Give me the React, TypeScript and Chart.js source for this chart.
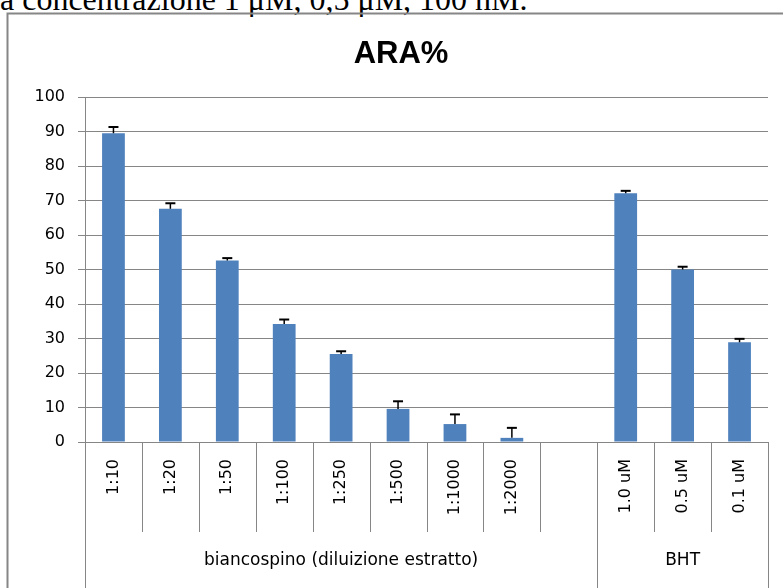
import React, { useEffect, useRef } from "react";
import { Chart, registerables } from "chart.js";

Chart.register(...registerables);

const HEADER_TEXT = "a concentrazione 1 μM, 0,5 μM, 100 nM.";
const TITLE = "ARA%";
const categories = ["1:10", "1:20", "1:50", "1:100", "1:250", "1:500", "1:1000", "1:2000", "", "1.0 uM", "0.5 uM", "0.1 uM"];
const values: (number | null)[] = [89.5, 67.6, 52.6, 34.2, 25.5, 9.6, 5.2, 1.2, null, 72.1, 50.0, 28.9];
const errors: (number | null)[] = [1.8, 1.6, 0.7, 1.3, 0.8, 2.2, 2.8, 2.9, null, 0.7, 0.8, 1.0];
const groupLabels = ["biancospino (diluizione estratto)", "BHT"];
const groupSizes = [9, 3];
const yMin = 0;
const yMax = 100;
const yStep = 10;

const GRID = "#868686";
const FONT = "'DejaVu Sans', sans-serif";

const errorBarPlugin = {
  id: "errorBars",
  afterDatasetsDraw(chart: any) {
    const ctx = chart.ctx;
    const y = chart.scales.y;
    const meta = chart.getDatasetMeta(0);
    ctx.save();
    ctx.strokeStyle = "#000";
    meta.data.forEach((bar: any, i: number) => {
      const v = values[i];
      const e = errors[i];
      if (v == null || e == null) return;
      const yv = y.getPixelForValue(v);
      const ye = y.getPixelForValue(v + e);
      ctx.lineWidth = 1.5;
      ctx.beginPath();
      ctx.moveTo(bar.x, yv);
      ctx.lineTo(bar.x, ye);
      ctx.stroke();
      ctx.lineWidth = 2;
      ctx.beginPath();
      ctx.moveTo(bar.x - 5, ye);
      ctx.lineTo(bar.x + 5, ye);
      ctx.stroke();
    });
    ctx.restore();
  },
};

const decorPlugin = {
  id: "decor",
  afterDraw(chart: any) {
    const ctx = chart.ctx;
    const x = chart.scales.x;
    const area = chart.chartArea;
    const H = chart.height;
    const half = (x.getPixelForValue(1) - x.getPixelForValue(0)) / 2;
    const groupBounds: number[] = [0];
    groupSizes.forEach((s) => groupBounds.push(groupBounds[groupBounds.length - 1] + s));
    ctx.save();
    ctx.strokeStyle = GRID;
    ctx.lineWidth = 1;
    for (let i = 0; i <= categories.length; i++) {
      const px = Math.round(x.getPixelForValue(i) - half) + 0.5;
      const isGroup = groupBounds.includes(i);
      ctx.beginPath();
      ctx.moveTo(px, area.bottom);
      ctx.lineTo(px, isGroup ? H + 5 : 532);
      ctx.stroke();
    }
    // group labels
    ctx.fillStyle = "#000";
    ctx.font = `17px ${FONT}`;
    ctx.textAlign = "center";
    ctx.textBaseline = "middle";
    for (let g = 0; g < groupLabels.length; g++) {
      const a = x.getPixelForValue(groupBounds[g]) - half;
      const b = x.getPixelForValue(groupBounds[g + 1]) - half;
      ctx.fillText(groupLabels[g], (a + b) / 2, 561);
    }
    // title
    ctx.font = `bold 31px 'Liberation Sans', Arial, sans-serif`;
    ctx.textBaseline = "alphabetic";
    ctx.fillText(TITLE, 401, 63);
    // outer border
    ctx.strokeStyle = GRID;
    ctx.lineWidth = 2;
    ctx.strokeRect(7.5, 13.5, 900, 900);
    ctx.restore();
  },
};

export default function App() {
  const ref = useRef<HTMLCanvasElement | null>(null);
  useEffect(() => {
    if (!ref.current) return;
    const chart = new Chart(ref.current, {
      type: "bar",
      data: {
        labels: categories,
        datasets: [
          {
            data: values as any,
            backgroundColor: "#4F81BD",
            borderWidth: 0,
            barPercentage: 0.8,
            categoryPercentage: 0.5,
          },
        ],
      },
      options: {
        responsive: false,
        animation: false,
        devicePixelRatio: 1,
        layout: { padding: { top: 97, right: 15, left: 0, bottom: 0 } },
        plugins: {
          legend: { display: false },
          tooltip: { enabled: false },
          title: { display: false },
        },
        scales: {
          x: {
            grid: { display: false, drawTicks: false },
            border: { display: true, color: GRID },
            ticks: {
              autoSkip: false,
              minRotation: 90,
              maxRotation: 90,
              padding: 17,
              color: "#000",
              font: { family: FONT, size: 16 },
            },
            afterFit(scale: any) {
              scale.height = 146;
            },
          },
          y: {
            min: yMin,
            max: yMax,
            grid: { color: GRID, drawTicks: true, tickLength: 7 },
            border: { display: true, color: GRID },
            ticks: {
              stepSize: yStep,
              padding: 13,
              color: "#000",
              font: { family: FONT, size: 16 },
            },
            afterFit(scale: any) {
              scale.width = 85;
            },
          },
        },
      },
      plugins: [errorBarPlugin, decorPlugin],
    });
    return () => chart.destroy();
  }, []);

  return (
    <>
      <div
        style={{
          position: "absolute",
          left: 0,
          top: -17,
          fontFamily: "'Liberation Serif', 'Times New Roman', serif",
          fontSize: 32,
          lineHeight: "32px",
          whiteSpace: "nowrap",
          color: "#000",
        }}
      >
        {HEADER_TEXT}
      </div>
      <canvas
        ref={ref}
        width={783}
        height={588}
        style={{ position: "absolute", left: 0, top: 0, width: 783, height: 588 }}
      />
    </>
  );
}
